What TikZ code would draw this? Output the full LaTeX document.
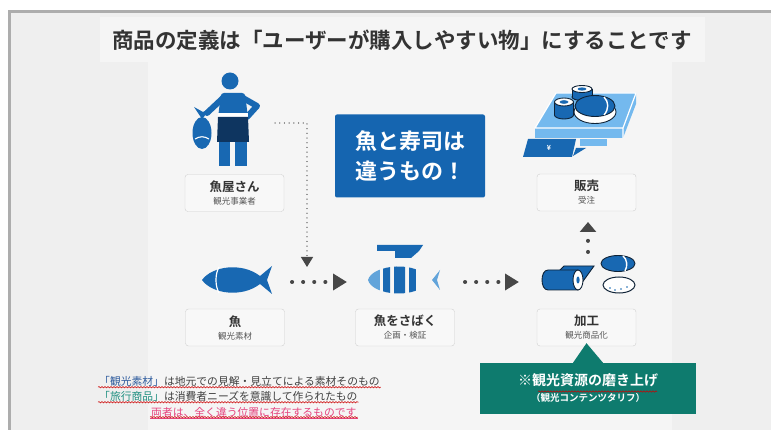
\documentclass[tikz,border=0pt]{standalone}
\usepackage{fontspec}
\setmainfont{Noto Sans CJK JP}[BoldFont={Noto Sans CJK JP Bold}]
\usepackage{tikz}
\usetikzlibrary{arrows.meta,calc,decorations.pathmorphing}

\definecolor{frame}{HTML}{ADADAD}
\definecolor{outerbg}{HTML}{EFEFEF}
\definecolor{panelbg}{HTML}{F5F5F5}
\definecolor{titlegray}{HTML}{333333}
\definecolor{iconblue}{HTML}{1868B2}
\definecolor{apron}{HTML}{0E3560}
\definecolor{ink}{HTML}{0F2236}
\definecolor{trayblue}{HTML}{74B9EE}
\definecolor{sliceblue}{HTML}{62A4DA}
\definecolor{msgblue}{HTML}{1565B0}
\definecolor{tagline}{HTML}{D0D0D0}
\definecolor{tagfill}{HTML}{F8F8F8}
\definecolor{subgray}{HTML}{555555}
\definecolor{arrowgray}{HTML}{474747}
\definecolor{dotgray}{HTML}{8A8A8A}
\definecolor{polishgreen}{HTML}{0E7B6E}
\definecolor{notegray}{HTML}{3F3F3F}
\definecolor{termblue}{HTML}{2F5C9E}
\definecolor{termteal}{HTML}{1E8F80}
\definecolor{notepink}{HTML}{E5447E}

\begin{document}
\begin{tikzpicture}[x=1pt,y=-1pt]
	\tikzstyle{tag}=[draw=tagline,fill=tagfill,rounded corners=3pt,minimum width=99pt,minimum height=37pt,inner sep=0pt,align=center,text=titlegray]
	\tikzstyle{dots}=[color=arrowgray,line width=4pt,line cap=round,dash pattern=on 0.1pt off 11pt,-{Triangle[length=14pt,width=16pt]}]
	\tikzstyle{fine dots}=[color=dotgray,line width=1.3pt,line cap=round,dash pattern=on 0.1pt off 4.6pt,-{Triangle[length=10pt,width=12pt,color=arrowgray]}]
	\tikzstyle{note}=[anchor=west,inner sep=1pt,text=notegray,font=\fontsize{10.8}{12}\selectfont]
	\tikzstyle{spell}=[red!80!black,line width=0.5pt,decorate,decoration={snake,amplitude=0.7pt,segment length=3pt}]
	\tikzstyle{outline}=[draw=ink,line width=0.9pt]

	\useasboundingbox (0,0) rectangle (771,430);
	\fill[white] (0,0) rectangle (771,430);
	\fill[outerbg] (9,12) rectangle (771,430);
	\fill[panelbg] (100,17) rectangle (705,62);
	\fill[panelbg] (148,62) rectangle (672,430);
	\draw[frame,line width=3pt] (9,430) -- (9,12) -- (771,12);

	\node[font=\fontsize{21.5}{24}\selectfont\bfseries,text=titlegray](title) at (402,40){商品の定義は「ユーザーが購入しやすい物」にすることです};

	% fishmonger
	\fill[iconblue] (230,81) circle (8.5);
	\fill[iconblue,rounded corners=3pt] (221,93) -- (245,93) -- (248,118) -- (218,118) -- cycle;
	\draw[iconblue,line width=6pt,line cap=round,line join=round] (243,98) -- (257,106) -- (247,117);
	\draw[iconblue,line width=6pt,line cap=round] (223,98) -- (207,113);
	\fill[iconblue] (202,133) ellipse (9.5 and 16);
	\fill[iconblue] (202,119) -- (194,107) -- (203,112) -- (212,107) -- cycle;
	\draw[white,line width=1.1pt] (195,139) .. controls (200,136) and (204,136) .. (209,139);
	\fill[white] (218,113.5) rectangle (248,117);
	\fill[apron] (218,117) -- (248,117) -- (249,142) -- (217,142) -- cycle;
	\fill[iconblue] (219,142) rectangle (230,166);
	\fill[iconblue] (235,142) rectangle (247,166);

	% sushi set
	\fill[trayblue] (556,93) -- (636,93) -- (623,128) -- (535,128) -- cycle;
	\fill[trayblue] (535,128) rectangle (623,138);
	\fill[trayblue] (623,128) -- (636,93) -- (636,104) -- (623,138) -- cycle;
	\draw[white,line width=1.2pt,line join=round] (556,93) -- (636,93) -- (623,128) -- (535,128) -- cycle (623,128) -- (623,138);
	\fill[trayblue] (580,139) rectangle (607,146);
	\fill[iconblue] (528,139) -- (576,139) -- (572,157) -- (523,157) -- cycle;
	\fill[iconblue] (576,148) -- (586,148) -- (573,156) -- cycle;
	\node[text=white,font=\fontsize{7}{7}\selectfont\bfseries](yen) at (549,148){¥};
	\filldraw[fill=iconblue,outline] (582,97) ellipse (10 and 3.5);
	\fill[iconblue] (572,89) rectangle (592,97);
	\draw[outline] (572,89) -- (572,97) (592,89) -- (592,97);
	\filldraw[fill=white,outline] (582,89) ellipse (10 and 3.5);
	\fill[iconblue] (582,89) ellipse (4.5 and 1.6);
	\filldraw[fill=iconblue,outline] (564,115) ellipse (9.5 and 4);
	\fill[iconblue] (554.5,102) rectangle (573.5,115);
	\draw[outline] (554.5,102) -- (554.5,115) (573.5,102) -- (573.5,115);
	\filldraw[fill=white,outline] (564,102) ellipse (9.5 and 4);
	\fill[iconblue] (564,102) ellipse (4.5 and 1.8);
	\filldraw[fill=white,outline] (595,112) ellipse (21 and 11.5);
	\filldraw[fill=iconblue,outline] (595,106) ellipse (20 and 10.5);
	\draw[white,line width=1.4pt] (604,97) .. controls (609,102) and (609,109) .. (604,115);

	\node[fill=msgblue,minimum width=150pt,minimum height=83pt,rounded corners=2pt,text=white,align=left,font=\fontsize{22}{30}\selectfont\bfseries](msg) at (410,156){魚と寿司は\\違うもの！};

	% raw fish
	\fill[iconblue] (202,280) .. controls (212,266) and (242,262) .. (260,276) -- (272,266) -- (267,280) -- (272,294) -- (260,284) .. controls (242,298) and (212,294) .. (202,280) -- cycle;
	\draw[white,line width=1.2pt] (219,267) .. controls (215,274) and (215,286) .. (219,293);

	% filleted fish
	\fill[iconblue] (377,245) -- (423,245) -- (419,251) -- (411,258) -- (395,258) -- (395,251) -- (377,251) -- cycle;
	\begin{scope}
		\clip (368,280) .. controls (372,264) and (420,260) .. (428,280) .. controls (420,300) and (372,296) .. (368,280) -- cycle;
		\fill[sliceblue] (366,260) rectangle (380,300);
		\fill[iconblue,rounded corners=2pt] (383,260) rectangle (390,300);
		\fill[iconblue,rounded corners=2pt] (394,260) rectangle (405,300);
		\fill[iconblue] (409,260) rectangle (416,300);
	\end{scope}
	\fill[sliceblue] (440,270) -- (432,280) -- (440,290) -- (437,280) -- cycle;

	% rolled sushi
	\filldraw[fill=iconblue,outline] (560,270) -- (564,266) -- (594,266) -- (581,284) -- cycle;
	\filldraw[fill=iconblue,outline] (548,270) -- (578,270) -- (578,290) -- (548,290) .. controls (540,290) and (540,270) .. (548,270) -- cycle;
	\filldraw[fill=white,outline] (578,280) ellipse (5 and 10);
	\fill[iconblue] (578,280) ellipse (1.6 and 3.5);
	\filldraw[fill=iconblue,outline] (618,263.5) ellipse (17 and 8);
	\draw[white,line width=1.4pt] (623,256) .. controls (627,259) and (628,266) .. (625,271);
	\filldraw[fill=white,draw=ink,line width=1pt] (619,285) ellipse (16 and 8);
	\foreach \px/\py in {610/288,615/290,621/289,627/287}
		\fill[iconblue] (\px,\py) circle (0.8);

	\node[tag](shop) at (234.5,193){{\fontsize{12.5}{14}\selectfont\bfseries 魚屋さん}\\[1pt]{\fontsize{8.5}{10}\selectfont\color{subgray}観光事業者}};
	\node[tag](sale) at (586.5,192.5){{\fontsize{12.5}{14}\selectfont\bfseries 販売}\\[1pt]{\fontsize{8.5}{10}\selectfont\color{subgray}受注}};
	\node[tag](raw) at (235,327.5){{\fontsize{12.5}{14}\selectfont\bfseries 魚}\\[1pt]{\fontsize{8.5}{10}\selectfont\color{subgray}観光素材}};
	\node[tag](plan) at (405,327.5){{\fontsize{12.5}{14}\selectfont\bfseries 魚をさばく}\\[1pt]{\fontsize{8.5}{10}\selectfont\color{subgray}企画・検証}};
	\node[tag](make) at (586.5,327.5){{\fontsize{12.5}{14}\selectfont\bfseries 加工}\\[1pt]{\fontsize{8.5}{10}\selectfont\color{subgray}観光商品化}};

	\coordinate (shopR) at (275,123);
	\coordinate (drop) at (307,267);
	\coordinate (rawR) at (292,282);
	\coordinate (planL) at (347,282);
	\coordinate (planR) at (465,282);
	\coordinate (makeL) at (519,282);
	\coordinate (makeT) at (588,252);
	\coordinate (saleB) at (588,222);

	\draw[fine dots] (shopR) -| (drop);
	\draw[dots] (rawR) -- (planL);
	\draw[dots] (planR) -- (makeL);
	\draw[dots,-{Triangle[length=10pt,width=16pt]}] (makeT) -- (saleB);

	\node[fill=polishgreen,minimum width=216pt,minimum height=51pt,text=white,align=center,inner sep=0pt](polish) at (588,388.5){{\fontsize{14}{17}\selectfont\bfseries ※観光資源の磨き上げ}\\[4pt]{\fontsize{9.5}{11}\selectfont\bfseries （観光コンテンツタリフ）}};
	\fill[polishgreen] ($(polish.north)+(-15,0)$) -- ($(make.south)+(0,-3)$) -- ($(polish.north)+(15,0)$) -- cycle;
	\draw[spell] (538,391.5) -- (657,391.5);

	\node[note](note1) at (98,381){\textcolor{termblue}{「観光素材」}は地元での見解・見立てによる素材そのもの};
	\node[note](note2) at (98,396){\textcolor{termteal}{「旅行商品」}は消費者ニーズを意識して作られたもの};
	\node[note,text=notepink](note3) at (150,412){両者は、全く違う位置に存在するものです};
	\draw[spell] (note1.south west) -- (note1.south east);
	\draw[spell] (note2.south west) -- (note2.south east);
	\draw[notepink,line width=0.6pt] (note3.south west) -- (note3.south east);
	\draw[spell] ([yshift=1pt]note3.south west) -- ([yshift=1pt]note3.south east);
\end{tikzpicture}
\end{document}
